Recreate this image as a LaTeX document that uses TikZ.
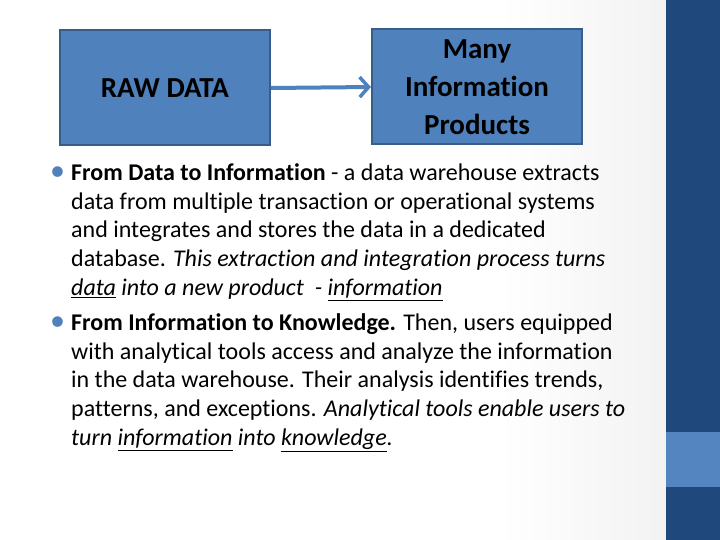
\documentclass[tikz,border=0pt]{standalone}
\usepackage{fontspec}
\setmainfont[Ligatures={NoCommon}]{Carlito}
\usetikzlibrary{arrows.meta}
\definecolor{boxfill}{HTML}{4F81BD}
\definecolor{boxline}{HTML}{385D8A}
\definecolor{darkbar}{HTML}{1F497D}
\definecolor{lightbar}{HTML}{5485C0}
\definecolor{bul}{HTML}{4F81BD}
\begin{document}
\begin{tikzpicture}[x=1pt,y=-1pt,
  box/.style={draw=boxline,line width=2pt,fill=boxfill,minimum width=210pt,minimum height=115pt,font=\fontsize{29}{38}\selectfont\bfseries,align=center,inner sep=0pt},
  ln/.style={anchor=west,font=\fontsize{24}{28}\selectfont,inner sep=0pt,text height=16pt,text depth=5pt}]
\useasboundingbox (0,0) rectangle (720,540);
\shade[left color=white,right color=white!90!gray] (500,0) rectangle (666,540);
\fill[darkbar] (666,0) rectangle (720,540);
\fill[lightbar] (666,432) rectangle (720,487);
\node[box] (raw) at (165,88) {RAW DATA};
\node[box] (many) at (477,87) {Many\\Information\\Products};
\draw[boxfill,line width=4pt,-{Straight Barb[length=9pt,width=20pt,line width=3.5pt]}] (raw.east) -- (many.west);
\node[ln,text=bul,font=\fontsize{30}{30}\selectfont] (b1) at (50,175) {•};
\node[ln] (l1) at (71,175) {\textbf{From Data to Information} - a data warehouse extracts};
\node[ln] (l2) at (71,204) {data from multiple transaction or operational systems};
\node[ln] (l3) at (71,232) {and integrates and stores the data in a dedicated};
\node[ln] (l4) at (71,261) {database. \textit{This extraction and integration process turns}};
\node[ln] (l5) at (71,290) {\textit{\underline{data} into a new product \ - \underline{information}}};
\node[ln,text=bul,font=\fontsize{30}{30}\selectfont] (b2) at (50,325) {•};
\node[ln] (m1) at (71,325) {\textbf{From Information to Knowledge.} Then, users equipped};
\node[ln] (m2) at (71,354) {with analytical tools access and analyze the information};
\node[ln] (m3) at (71,382) {in the data warehouse. Their analysis identifies trends,};
\node[ln] (m4) at (71,411) {patterns, and exceptions. \textit{Analytical tools enable users to}};
\node[ln] (m5) at (71,440) {\textit{turn \underline{information} into \underline{knowledge}.}};
\end{tikzpicture}
\end{document}
